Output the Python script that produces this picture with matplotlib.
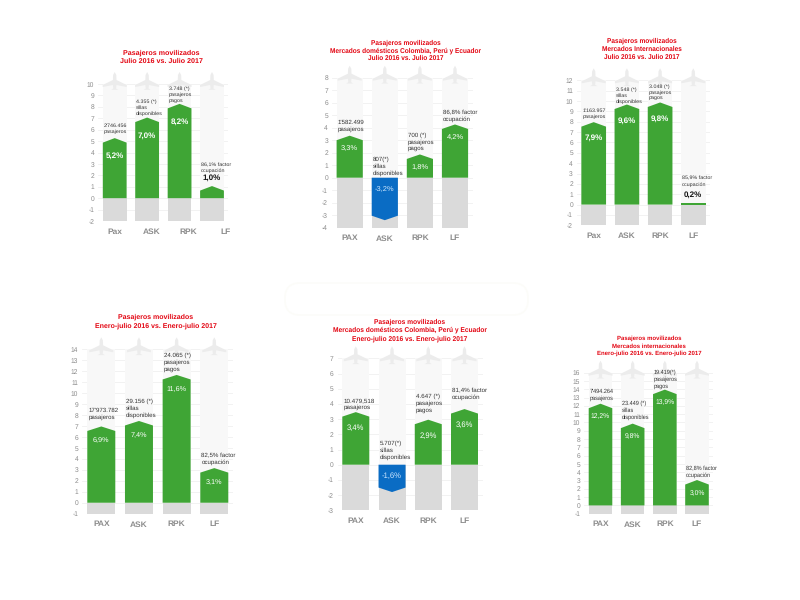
import matplotlib
matplotlib.use("Agg")
import matplotlib.pyplot as plt
from matplotlib.patches import Polygon, FancyBboxPatch
from matplotlib.transforms import Affine2D

plt.rcParams["font.family"] = ["Liberation Sans", "DejaVu Sans"]
plt.rcParams["text.hinting"] = "no_hinting"
plt.rcParams["axes.unicode_minus"] = False

W, H = 800, 600

TITLES = [
    ["Pasajeros movilizados", "Julio 2016 vs. Julio 2017"],
    ["Pasajeros movilizados", "Mercados domésticos Colombia, Perú y Ecuador", "Julio 2016 vs. Julio 2017"],
    ["Pasajeros movilizados", "Mercados Internacionales", "Julio 2016 vs. Julio 2017"],
    ["Pasajeros movilizados", "Enero-julio 2016 vs. Enero-julio 2017"],
    ["Pasajeros movilizados", "Mercados domésticos Colombia, Perú y Ecuador", "Enero-julio 2016 vs. Enero-julio 2017"],
    ["Pasajeros movilizados", "Mercados internacionales", "Enero-julio 2016 vs. Enero-julio 2017"],
]
CATEGORIES = [
    ["Pax", "ASK", "RPK", "LF"],
    ["PAX", "ASK", "RPK", "LF"],
    ["Pax", "ASK", "RPK", "LF"],
    ["PAX", "ASK", "RPK", "LF"],
    ["PAX", "ASK", "RPK", "LF"],
    ["PAX", "ASK", "RPK", "LF"],
]
VALUES = [
    [5.2, 7.0, 8.2, 1.0],
    [3.3, -3.2, 1.8, 4.2],
    [7.9, 9.6, 9.8, 0.2],
    [6.9, 7.4, 11.6, 3.1],
    [3.4, -1.6, 2.9, 3.6],
    [12.2, 9.8, 13.9, 3.0],
]
Y_RANGES = [(-2, 10), (-4, 8), (-2, 12), (-1, 14), (-3, 7), (-1, 16)]
CAPTIONS = [
    ["2'746.456\npasajeros", "4.355 (*)\nsillas\ndisponibles", "3.748 (*)\npasajeros\npagos", "86,1% factor\nocupación"],
    ["1'582.499\npasajeros", "807(*)\nsillas\ndisponibles", "700 (*)\npasajeros\npagos", "86,8% factor\nocupación"],
    ["1'163.957\npasajeros", "3.548 (*)\nsillas\ndisponibles", "3.048 (*)\npasajeros\npagos", "85,9% factor\nocupación"],
    ["17'973.782\npasajeros", "29.156 (*)\nsillas\ndisponibles", "24.065 (*)\npasajeros\npagos", "82,5% factor\nocupación"],
    ["10.479,518\npasajeros", "5.707(*)\nsillas\ndisponibles", "4.647 (*)\npasajeros\npagos", "81,4% factor\nocupación"],
    ["7'494.264\npasajeros", "23.449 (*)\nsillas\ndisponibles", "19.419(*)\npasajeros\npagos", "82,8% factor\nocupación"],
]

# Layout of each panel, in pixels of the 800x600 canvas
FIRST_CENTER = [114.7, 349.7, 593.7, 101.3, 355.8, 600.5]
LAST_CENTER = [212.0, 455.0, 693.3, 214.3, 464.5, 697.0]
BAR_PX = [23.8, 26.2, 24.7, 28.0, 27.0, 23.6]
TOP_PX = [84.0, 77.7, 80.3, 349.3, 358.3, 372.7]
BOTTOM_PX = [221.0, 227.7, 225.3, 513.7, 510.3, 513.7]
TITLE_X = [161.7, 405.7, 641.7, 156.0, 410.0, 649.3]
TITLE_Y = [52.7, 42.3, 40.7, 317.0, 321.7, 338.7]
TITLE_STEP = [8.7, 8.0, 8.0, 8.3, 8.5, 7.3]
TITLE_SIZE = [5.1, 4.7, 4.7, 5.0, 4.8, 4.3]
CAPTION_SIZE = [3.9, 4.4, 3.9, 4.4, 4.5, 4.0]
CAPTION_GAP = [[4, 2, 1, 13], [4, 2, 3, 2], [3, 1, 2, 16], [6, 3, 3, 3], [2, 5, 7, 9], [3, 4, 1, 2]]
VALUE_DROP = [18, 13, 16, 14, 16, 13]
VALUE_SIZE = [5.8, 5.4, 5.8, 5.2, 5.5, 4.9]
VALUE_BOLD = [True, False, True, False, False, False]
LABEL_SPREAD = [1.135, 1.0, 1.0, 1.0, 1.0, 1.0]
TIP_PX = 4.5

GREEN = "#3fa535"
BLUE = "#0a6cc4"
GREY_NEG = "#dadada"
GREY_POS = "#f8f8f8"
GRID = "#f0f0f0"
TICK = "#8a8a8a"
INK = "#333333"
RED = "#e30613"

PIXELS = Affine2D().scale(1, -1).translate(0, H)

fig = plt.figure(figsize=(W / 100, H / 100), dpi=100, facecolor="white")

# Faint rounded outline behind the panels
backdrop = fig.add_axes([0, 0, 1, 1], zorder=0)
backdrop.set_xlim(0, W)
backdrop.set_ylim(H, 0)
backdrop.axis("off")
backdrop.add_patch(FancyBboxPatch((285, 283), 243, 32, boxstyle="round,pad=0,rounding_size=15",
                                  fc="none", ec="#fcfcf9", lw=1.2))


def plane(ax, cx, cy):
    """Small top-view airplane silhouette centred at pixel (cx, cy)."""
    outline = [(0, -11), (1.6, -8), (1.8, -3), (12, 2), (12, 4), (1.8, 2), (1.4, 5.5),
               (3.6, 6.8), (-3.6, 6.8), (-1.4, 5.5), (-1.8, 2), (-12, 4), (-12, 2), (-1.8, -3), (-1.6, -8)]
    ax.add_patch(Polygon([(cx + dx, cy + dy) for dx, dy in outline], closed=True, fc="#ececec", ec="none",
                         transform=PIXELS, zorder=2, clip_on=False))


for i in range(6):
    spacing = (LAST_CENTER[i] - FIRST_CENTER[i]) / 3
    left = FIRST_CENTER[i] - 0.5 * spacing
    right = LAST_CENTER[i] + 0.5 * spacing
    ax = fig.add_axes([left / W, 1 - BOTTOM_PX[i] / H, (right - left) / W, (BOTTOM_PX[i] - TOP_PX[i]) / H],
                      zorder=1)
    ax.patch.set_alpha(0)
    ymin, ymax = Y_RANGES[i]
    ax.set_xlim(-0.5, 3.5)
    ax.set_ylim(ymin, ymax)
    for s in ax.spines.values():
        s.set_visible(False)
    ax.set_yticks(range(ymin, ymax + 1))
    ax.tick_params(axis="y", length=0, labelsize=4.8, labelcolor=TICK, pad=3)
    ax.set_axisbelow(True)
    ax.yaxis.grid(True, color=GRID, lw=0.6)
    ax.set_xticks([k * LABEL_SPREAD[i] for k in range(4)])
    ax.set_xticklabels(CATEGORIES[i], fontsize=6, fontweight="bold", color="#8c8c8c")
    ax.tick_params(axis="x", length=0, pad=5)

    unit = (BOTTOM_PX[i] - TOP_PX[i]) / (ymax - ymin)  # pixels per axis unit
    bar = BAR_PX[i] / spacing
    ax.bar(range(4), [ymax] * 4, width=bar, color=GREY_POS, zorder=1)
    ax.bar(range(4), [ymin] * 4, width=bar, color=GREY_NEG, zorder=1)

    for k, v in enumerate(VALUES[i]):
        # Flag-shaped bar: straight sides and a pointed end at the value
        tip = v + (0.06 if v > 0 else -0.2)
        shoulder = tip - TIP_PX / unit if v > 0 else tip + TIP_PX / unit
        if abs(v) * unit < TIP_PX:
            tip = shoulder = v
        colour = GREEN if v >= 0 else BLUE
        h = bar / 2
        ax.add_patch(Polygon([(k - h, 0), (k - h, shoulder), (k, tip), (k + h, shoulder), (k + h, 0)],
                             closed=True, fc=colour, ec="none", zorder=3))
        plane(ax, FIRST_CENTER[i] + k * spacing, TOP_PX[i] - 1)

        text = f"{v:.1f}%".replace(".", ",")
        anchor_x = k - h + 1 / spacing
        ax.annotate(CAPTIONS[i][k], (anchor_x, max(tip, 0)),
                    xytext=(0, CAPTION_GAP[i][k] * 0.72), textcoords="offset points",
                    ha="left", va="bottom", fontsize=CAPTION_SIZE[i], color=INK,
                    linespacing=1.3, zorder=5)
        if v > 0 and v * unit < 16:
            ax.annotate(text, (k, tip), xytext=(0, 3.2), textcoords="offset points",
                        ha="center", va="bottom", fontsize=VALUE_SIZE[i], fontweight="bold",
                        color="#111111", zorder=5)
        elif v > 0:
            ax.annotate(text, (k, tip), xytext=(0, -VALUE_DROP[i] * 0.72), textcoords="offset points",
                        ha="center", va="center", fontsize=VALUE_SIZE[i], color="white",
                        fontweight="bold" if VALUE_BOLD[i] else "normal", zorder=5)
        else:
            ax.annotate(text, (k, 0), xytext=(0, -8), textcoords="offset points",
                        ha="center", va="center", fontsize=VALUE_SIZE[i], color="#cfe8ff", zorder=5)

    for n, line in enumerate(TITLES[i]):
        fig.text(TITLE_X[i] / W, 1 - (TITLE_Y[i] + n * TITLE_STEP[i]) / H, line, ha="center", va="center",
                 fontsize=TITLE_SIZE[i], fontweight="bold", color=RED)

fig.savefig("out.png", dpi=100, facecolor="white")
